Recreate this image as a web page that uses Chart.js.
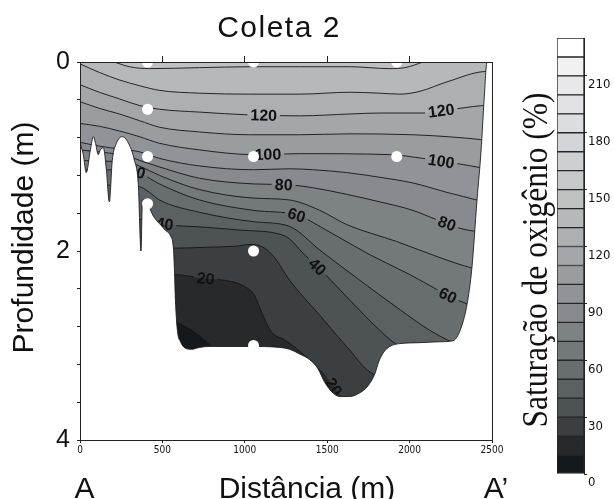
<!DOCTYPE html>
<html lang="pt">
<head>
<meta charset="utf-8">
<script src="https://cdn.jsdelivr.net/npm/chart.js@4.4.1/dist/chart.umd.min.js"></script>
<style>
 html,body{margin:0;padding:0;background:#fff;overflow:hidden}
 #wrap{position:relative;width:614px;height:499px}
 canvas{position:absolute;top:0}
 #main{left:0}
 #barra{left:500px}
</style>
</head>
<body>
<div id="wrap"><canvas id="main" width="614" height="499"></canvas><canvas id="barra" width="114" height="499"></canvas></div>
<script>
// ---------------- data ----------------
const titulo = 'Coleta 2';
const tituloY = 'Profundidade (m)';
const tituloX = 'Distância (m)';
const extremos = ['A', 'A\u2019'];
const tituloEscala = 'Saturação de oxigênio (%)';

const distTicks = [0, 500, 1000, 1500, 2000, 2500];
const distTicksTopo = [500, 1000, 1500, 2000];
const profTicks = [0, 0.4, 0.8, 1.2, 1.6, 2, 2.4, 2.8, 3.2, 3.6, 4];
const profRotulos = ['0', '', '', '', '', '2', '', '', '', '', '4'];

// contour lines: [distance (m), depth (m)]
const niveis = [140, 130, 120, 110, 100, 90, 80, 70, 60, 50, 40, 30, 20, 10];
const iso140 = [[0,-0.11],[208,0],[300,0.05],[421,0.07],[725,0.06],[1029,0.05],[1333,0.05],[1637,0.05],[1880,0.07],[1971,0.06],[2081,0],[2184,-0.07],[2500,-0.13]];
const iso130 = [[0,0.02],[117,0.11],[239,0.19],[360,0.25],[482,0.30],[725,0.33],[1029,0.34],[1333,0.34],[1637,0.32],[1819,0.33],[1941,0.34],[2063,0.31],[2227,0.21],[2470,0.10],[2500,0.10]];
const iso120 = [[0,0.24],[117,0.32],[239,0.39],[360,0.46],[482,0.50],[725,0.53],[1029,0.56],[1333,0.57],[1637,0.55],[1819,0.54],[2081,0.54],[2306,0.49],[2470,0.46],[2500,0.46]];
const iso110 = [[0,0.42],[117,0.49],[239,0.55],[360,0.62],[482,0.69],[725,0.74],[1029,0.77],[1333,0.77],[1637,0.76],[2020,0.77],[2227,0.79],[2470,0.83],[2500,0.84]];
const iso100 = [[0,0.65],[117,0.68],[239,0.73],[360,0.79],[482,0.86],[725,0.93],[1053,0.98],[1333,0.97],[1880,0.98],[2081,1.02],[2306,1.08],[2470,1.13],[2500,1.14]];
const iso90 = [[0,0.85],[117,0.89],[239,0.92],[360,0.95],[482,1.02],[725,1.10],[1053,1.14],[1272,1.13],[1412,1.14],[1618,1.17],[1819,1.22],[2020,1.28],[2227,1.38],[2428,1.47],[2500,1.51]];
const iso80 = [[0,0.93],[239,0.98],[330,1.02],[360,1.04],[482,1.11],[725,1.23],[1053,1.29],[1272,1.30],[1412,1.33],[1618,1.40],[1819,1.48],[2020,1.57],[2166,1.67],[2306,1.76],[2428,1.80],[2500,1.82]];
const iso70 = [[0,1.04],[330,1.08],[360,1.10],[482,1.20],[725,1.35],[1053,1.44],[1272,1.46],[1455,1.57],[1618,1.72],[1922,1.90],[2184,2.07],[2378,2.18],[2500,2.22]];
const iso60 = [[0,1.14],[330,1.15],[360,1.17],[482,1.29],[725,1.46],[1053,1.57],[1315,1.62],[1515,1.80],[1759,2.04],[2002,2.25],[2233,2.47],[2348,2.56],[2500,2.64]];
const iso50 = [[0,1.30],[360,1.32],[421,1.38],[482,1.46],[725,1.59],[1053,1.69],[1272,1.74],[1455,1.99],[1698,2.31],[1941,2.62],[2123,2.84],[2263,2.97],[2500,3.15]];
const iso40 = [[0,1.46],[482,1.71],[774,1.75],[981,1.78],[1242,1.84],[1363,2.04],[1473,2.22],[1637,2.52],[1819,2.84],[1922,2.99],[2500,3.40]];
const iso30 = [[0,1.97],[573,1.97],[774,1.96],[938,1.95],[1041,1.93],[1120,1.97],[1181,2.07],[1272,2.31],[1455,2.68],[1637,3.05],[1759,3.28],[2500,3.60]];
const iso20 = [[0,2.25],[573,2.25],[756,2.29],[877,2.31],[981,2.36],[1059,2.47],[1102,2.65],[1163,2.86],[1242,2.94],[1333,3.06],[1455,3.26],[1534,3.42],[1590,3.57],[1637,3.79],[2500,3.89]];
const iso10 = [[0,2.75],[573,2.75],[591,2.76],[695,2.86],[774,2.97],[816,3.05],[1029,3.37],[2500,4.0]];

// bottom / margin profile (land outline)
const fundo = [[0,0.85],[20,0.98],[38,1.17],[63,0.93],[81,0.79],[93,0.85],[111,0.98],[123,0.93],[142,0.91],[160,1.14],[178,1.48],[196,1.04],[221,0.86],[257,0.79],[300,0.88],[330,1.04],[354,1.30],[370,2.00],[379,1.46],[391,1.46],[415,1.52],[445,1.63],[482,1.71],[518,1.78],[549,1.84],[567,1.97],[573,2.20],[579,2.52],[591,2.84],[610,2.96],[640,3.03],[677,3.04],[725,3.02],[786,3.01],[1029,3.01],[1211,3.02],[1272,3.04],[1333,3.09],[1394,3.15],[1442,3.24],[1485,3.39],[1528,3.49],[1576,3.54],[1637,3.54],[1698,3.50],[1746,3.43],[1789,3.30],[1813,3.17],[1843,3.07],[1880,3.01],[1941,2.98],[2063,2.97],[2184,2.96],[2263,2.95],[2294,2.89],[2324,2.75],[2348,2.57],[2378,2.18],[2409,1.46],[2434,0.93],[2452,0.40],[2470,0],[2500,0]];

// sampling stations
const estacoesX = [410, 410, 410, 410, 1053, 1053, 1053, 1053, 1922, 1922];
const estacoesProf = [0, 0.5, 1.0, 1.5, 0, 1.0, 2.0, 3.0, 0, 1.0];

// contour labels
const rotuloNivel = [120, 120, 100, 100, 80, 80, 60, 60, 60, 40, 40, 20, 20];
const rotuloX = [1115, 2192, 1140, 2192, 1236, 2227, 343, 1315, 2233, 513, 1440, 762, 1540];

// colour scale
const escalaLimites = [0,10,20,30,40,50,60,70,80,90,100,110,120,130,140,150,160,170,180,190,200,210,220,230];
const escalaTicks = [0, 30, 60, 90, 120, 150, 180, 210];

// ---------------- styles ----------------
const coresFaixa = ['#16191b','#27292b','#3b3f41','#4d5254','#5b6062','#686d6f','#73787a','#7d8284',
  '#878b90','#909498','#999da0','#a3a7a9','#acb0b1','#b5b9b9','#bec2c1','#c6c8ca','#cdcfd1',
  '#d4d5d8','#dcdde0','#e2e2e5','#e8e8ea','#f1f1f2','#ffffff'];
const corFaixa = v => coresFaixa[Math.round(v / 10)];
const SANS = '"Liberation Sans", Arial, Helvetica, sans-serif';
const NARROW = '"Liberation Sans Narrow", "Arial Narrow", "DejaVu Sans Condensed", "Liberation Sans", Arial, sans-serif';
const SERIF = '"Liberation Serif", "Times New Roman", serif';
const INK = '#111';

const isolinhas = {140: iso140, 130: iso130, 120: iso120, 110: iso110, 100: iso100, 90: iso90, 80: iso80,
  70: iso70, 60: iso60, 50: iso50, 40: iso40, 30: iso30, 20: iso20, 10: iso10};
const toXY = arr => arr.map(([x, y]) => ({x, y}));

const datasets = [];
datasets.push({label: 'superficie', data: toXY([[0, 0], [2500, 0]]), showLine: true, fill: {value: 4},
  backgroundColor: corFaixa(140), borderWidth: 0, pointRadius: 0, order: 200});
niveis.forEach((n, i) => {
  datasets.push({label: 'iso' + n, nivel: n, data: toXY(isolinhas[n]), showLine: true, fill: {value: 4},
    backgroundColor: corFaixa(n - 10), borderColor: '#151515', borderWidth: 0.9, pointRadius: 0,
    cubicInterpolationMode: 'monotone', order: 150 - i});
});
datasets.push({label: 'fundo', data: toXY(fundo), showLine: true, fill: {value: 4}, backgroundColor: '#ffffff',
  borderColor: '#1d1d1d', borderWidth: 0.9, pointRadius: 0, cubicInterpolationMode: 'monotone', order: 20});
datasets.push({label: 'estacoes', data: estacoesX.map((x, i) => ({x, y: estacoesProf[i]})), showLine: false,
  pointRadius: 5.5, pointBackgroundColor: '#ffffff', pointBorderWidth: 0, order: 1, clip: false});

const ROT_FONT = 'bold 16px ' + SANS;
const ultimoNivel = niveis[niveis.length - 1];

function pontoLinha(meta, px) {
  const pts = meta.data;
  for (let i = 0; i < pts.length - 1; i++) {
    const a = pts[i], b = pts[i + 1];
    if (px >= a.x && px <= b.x) {
      const t = (b.x === a.x) ? 0 : (px - a.x) / (b.x - a.x);
      return a.y + t * (b.y - a.y);
    }
  }
  return pts[pts.length - 1].y;
}
function caixasRotulo(chart, ds, meta) {
  const xs = chart.scales.x, ctx = chart.ctx;
  ctx.save(); ctx.font = ROT_FONT;
  const out = [];
  rotuloNivel.forEach((n, i) => {
    if (n !== ds.nivel) return;
    const px = xs.getPixelForValue(rotuloX[i]);
    const py = pontoLinha(meta, px);
    const ang = Math.atan2(pontoLinha(meta, px + 12) - pontoLinha(meta, px - 12), 24);
    const w = ctx.measureText(String(n)).width;
    out.push({px, py, ang, w, txt: String(n)});
  });
  ctx.restore();
  return out;
}
const rotulosPlugin = {
  id: 'rotulos',
  beforeDatasetDraw(chart, args) {
    const ds = chart.data.datasets[args.index];
    if (!ds.nivel || !rotuloNivel.includes(ds.nivel)) return;
    const ctx = chart.ctx;
    const boxes = caixasRotulo(chart, ds, args.meta);
    ctx.save();
    ctx.beginPath();
    ctx.rect(0, 0, chart.width, chart.height);
    boxes.forEach(b => {
      const hw = b.w / 2 + 3, hh = 6;
      const c = Math.cos(b.ang), s = Math.sin(b.ang);
      const corners = [[-hw, -hh], [hw, -hh], [hw, hh], [-hw, hh]].map(([u, v]) => [b.px + u * c - v * s, b.py + u * s + v * c]);
      ctx.moveTo(corners[0][0], corners[0][1]);
      corners.slice(1).forEach(p => ctx.lineTo(p[0], p[1]));
      ctx.closePath();
    });
    ctx.clip('evenodd');
    ds._clipped = true;
  },
  afterDatasetDraw(chart, args) {
    const ds = chart.data.datasets[args.index];
    const ctx = chart.ctx;
    if (ds._clipped) { ctx.restore(); ds._clipped = false; }
    if (ds.nivel === ultimoNivel) {
      chart.data.datasets.forEach((d, j) => {
        if (!d.nivel || !rotuloNivel.includes(d.nivel)) return;
        const boxes = caixasRotulo(chart, d, chart.getDatasetMeta(j));
        boxes.forEach(b => {
          ctx.save();
          ctx.translate(b.px, b.py); ctx.rotate(b.ang);
          ctx.font = ROT_FONT; ctx.fillStyle = INK; ctx.textAlign = 'center'; ctx.textBaseline = 'middle';
          ctx.fillText(b.txt, 0, 1);
          ctx.restore();
        });
      });
    }
  },
  afterDraw(chart) {
    const ctx = chart.ctx;
    const put = (t, x, y, font, rot, sx, ls) => {
      ctx.save(); ctx.translate(x, y); if (rot) ctx.rotate(rot); if (sx) ctx.scale(sx, 1);
      ctx.font = font; ctx.fillStyle = INK; ctx.textAlign = 'center'; ctx.textBaseline = 'alphabetic';
      if (ls) { try { ctx.letterSpacing = ls; } catch (e) {} }
      ctx.fillText(t, 0, 0); ctx.restore();
    };
    put(titulo, 279, 37, '30px ' + SANS, 0, 0, '1.5px');
    put(tituloY, 33, 237.5, '30px ' + SANS, -Math.PI / 2);
    put(tituloX, 307, 498, '30px ' + SANS);
    put(extremos[0], 84.5, 498, '30px ' + SANS);
    put(extremos[1], 496, 498, '30px ' + SANS);
    put(tituloEscala, 546.5, 260, '35px ' + SERIF, -Math.PI / 2, 0.9);
  }
};

const eixoCor = '#222';
new Chart(document.getElementById('main'), {
  type: 'scatter',
  data: {datasets},
  options: {
    responsive: false, animation: false, events: [],
    layout: {padding: {left: 0, right: 122, top: 62, bottom: 0}},
    plugins: {legend: {display: false}, tooltip: {enabled: false}, title: {display: false},
      filler: {propagate: false}},
    scales: {
      x: {type: 'linear', position: 'bottom', min: 0, max: 2500,
        afterBuildTicks: a => { a.ticks = distTicks.map(v => ({value: v})); },
        afterFit: s => { s.height = 59; },
        ticks: {font: {family: NARROW, size: 10}, color: INK, padding: 1, maxRotation: 0, autoSkip: false,
          callback: v => String(v)},
        grid: {drawOnChartArea: false, drawTicks: true, tickLength: 3, color: eixoCor},
        border: {display: true, color: eixoCor, z: 1}},
      xt: {type: 'linear', axis: 'x', position: 'top', min: 0, max: 2500,
        afterBuildTicks: a => { a.ticks = distTicksTopo.map(v => ({value: v})); },
        afterFit: s => { s.height = 0; },
        ticks: {display: false},
        grid: {drawOnChartArea: false, drawTicks: true, tickLength: 6, color: eixoCor},
        border: {display: true, color: eixoCor, z: 1}},
      y: {type: 'linear', position: 'left', min: 0, max: 4, reverse: true,
        afterBuildTicks: a => { a.ticks = profTicks.map(v => ({value: v})); },
        afterFit: s => { s.width = 80; },
        ticks: {font: {family: SANS, size: 25}, color: INK, padding: 7, autoSkip: false,
          callback: (v, i) => profRotulos[i]},
        grid: {drawOnChartArea: false, drawTicks: true, tickLength: 3, color: eixoCor},
        border: {display: true, color: eixoCor, z: 1}},
      yr: {type: 'linear', axis: 'y', position: 'right', min: 0, max: 4, reverse: true,
        afterFit: s => { s.width = 0; },
        ticks: {display: false}, grid: {display: false},
        border: {display: true, color: eixoCor, z: 1}}
    }
  },
  plugins: [rotulosPlugin]
});

// colour bar
new Chart(document.getElementById('barra'), {
  type: 'bar',
  data: {labels: [''], datasets: coresFaixa.map((c, i) => ({
    data: [[escalaLimites[i], escalaLimites[i + 1]]], backgroundColor: c, borderColor: '#262626',
    borderWidth: 1, borderSkipped: false, grouped: false, barPercentage: 1, categoryPercentage: 1}))},
  options: {
    responsive: false, animation: false, events: [],
    layout: {padding: {left: 57, right: 0, top: 38, bottom: 25}},
    plugins: {legend: {display: false}, tooltip: {enabled: false}},
    scales: {
      x: {display: false},
      y: {position: 'right', min: 0, max: 230,
        afterBuildTicks: a => { a.ticks = escalaTicks.map(v => ({value: v})); },
        afterFit: s => { s.width = 30; },
        ticks: {font: {family: NARROW, size: 13}, color: INK, padding: 1, labelOffset: 9},
        grid: {drawOnChartArea: false, drawTicks: true, tickLength: 3, color: '#262626'},
        border: {display: true, color: '#262626', z: 1}}
    }
  }
});
</script>
</body>
</html>
